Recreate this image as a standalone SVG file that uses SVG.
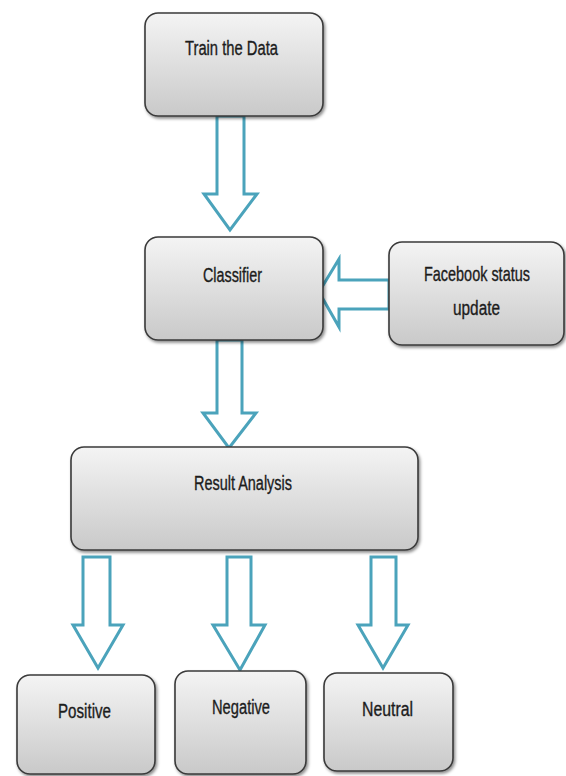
<svg xmlns="http://www.w3.org/2000/svg" width="566" height="776" viewBox="0 0 566 776">
<defs>
<linearGradient id="g" x1="0" y1="0" x2="0" y2="1">
<stop offset="0" stop-color="#f4f4f4"/>
<stop offset="1" stop-color="#c9c9c9"/>
</linearGradient>
<filter id="sh" x="-10%" y="-10%" width="125%" height="130%">
<feDropShadow dx="1.5" dy="2" stdDeviation="1.5" flood-color="#000" flood-opacity="0.45"/>
</filter>
<style>
.box{fill:url(#g);stroke:#3a3a3a;stroke-width:1.6;filter:url(#sh)}
.arr{fill:#ffffff;stroke:#4ba3bb;stroke-width:3;stroke-linejoin:miter}
.t{font-family:"Liberation Sans",Arial,sans-serif;font-size:20px;fill:#1c1c1c;stroke:#1c1c1c;stroke-width:0.35;text-anchor:start}
</style>
</defs>
<rect width="566" height="776" fill="#ffffff"/>
<g id="connectors">
<polygon class="arr" points="217,116 244,116 244,194 257,194 230,230 204,194 217,194"/>
<polygon class="arr" points="389,280 339,280 339,259 319,292 339,327 339,309 389,309"/>
<polygon class="arr" points="217,340 242,340 242,413 256,413 229,448 203,413 217,413"/>
<polygon class="arr" points="83,557 110,557 110,625 123,625 98,668 73,625 83,625"/>
<polygon class="arr" points="227,557 251,557 251,625 265,625 240,670 213,625 227,625"/>
<polygon class="arr" points="371,557 396,557 396,625 408,625 383,668 358,625 371,625"/>
</g>
<g id="train">
<rect class="box" x="145" y="13" width="178" height="103" rx="13"/>
<text class="t" x="185" y="55" textLength="93" lengthAdjust="spacingAndGlyphs">Train the Data</text>
</g>
<g id="classifier">
<rect class="box" x="145" y="237" width="178" height="103" rx="13"/>
<text class="t" x="203" y="282" textLength="59" lengthAdjust="spacingAndGlyphs">Classifier</text>
</g>
<g id="facebook">
<rect class="box" x="389" y="242" width="175" height="103" rx="13"/>
<text class="t" transform="translate(424,281) scale(0.722,1)" x="0" y="0">Facebook status</text>
<text class="t" x="453" y="315" textLength="47" lengthAdjust="spacingAndGlyphs">update</text>
</g>
<g id="result">
<rect class="box" x="71" y="447" width="347" height="103" rx="13"/>
<text class="t" x="194" y="490" textLength="98" lengthAdjust="spacingAndGlyphs">Result Analysis</text>
</g>
<g id="positive">
<rect class="box" x="17" y="675" width="138" height="99" rx="13"/>
<text class="t" x="58" y="718" textLength="53" lengthAdjust="spacingAndGlyphs">Positive</text>
</g>
<g id="negative">
<rect class="box" x="175" y="671" width="131" height="103" rx="13"/>
<text class="t" x="212" y="714" textLength="58" lengthAdjust="spacingAndGlyphs">Negative</text>
</g>
<g id="neutral">
<rect class="box" x="324" y="673" width="129" height="98" rx="13"/>
<text class="t" x="362" y="716" textLength="51" lengthAdjust="spacingAndGlyphs">Neutral</text>
</g>
</svg>
